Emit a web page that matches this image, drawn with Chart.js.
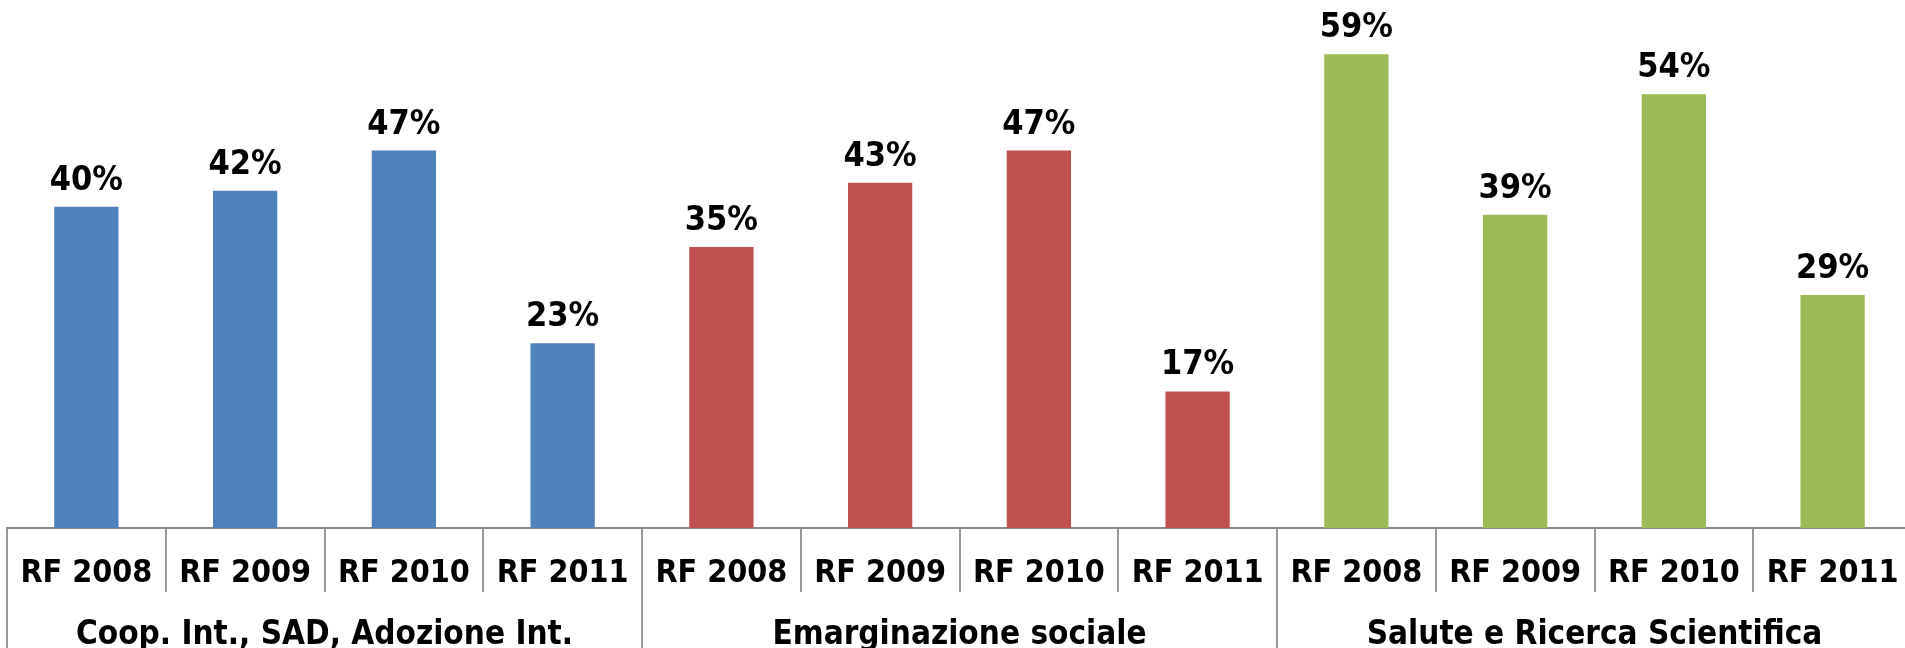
<!DOCTYPE html>
<html>
<head>
<meta charset="utf-8">
<script src="https://cdn.jsdelivr.net/npm/chart.js@4"></script>
<style>
  html, body { margin: 0; padding: 0; background: #fff; overflow: hidden; }
  #wrap { width: 1912px; height: 648px; }
</style>
</head>
<body>
<div id="wrap"><canvas id="chart"></canvas></div>
<script>
// ===========================
// DATA
// ===========================
const years = ["RF 2008", "RF 2009", "RF 2010", "RF 2011"];
const groups = ["Coop. Int., SAD, Adozione Int.", "Emarginazione sociale", "Salute e Ricerca Scientifica"];
const coopValues = [40, 42, 47, 23];
const emargValues = [35, 43, 47, 17];
const saluteValues = [59, 39, 54, 29];
const groupColors = ["#4F81BD", "#C0504D", "#9BBB59"];

// Flatten groups into one category axis
const labels = [...years, ...years, ...years];
const values = [...coopValues, ...emargValues, ...saluteValues];
const colors = [coopValues, emargValues, saluteValues]
    .flatMap((arr, i) => arr.map(() => groupColors[i]));

const FONT = "'DejaVu Sans Condensed', 'DejaVu Sans', sans-serif";

// Value labels above bars + axis labels (years row, groups row)
const textLayer = {
    id: "textLayer",
    afterDraw(chart) {
        const ctx = chart.ctx;
        ctx.save();
        ctx.fillStyle = "#000";
        ctx.textAlign = "center";
        ctx.textBaseline = "alphabetic";

        // values
        ctx.font = "bold 34px " + FONT;
        chart.getDatasetMeta(0).data.forEach((bar, i) => {
            ctx.fillText(values[i] + "%", bar.x, bar.y - 17);
        });

        // year row
        const x = chart.scales.x;
        ctx.font = "bold 32px " + FONT;
        x.ticks.forEach((t, i) => {
            ctx.fillText(x.getLabelForValue(t.value), x.getPixelForTick(i), x.top + 54);
        });

        // group row
        const x2 = chart.scales.x2;
        ctx.font = "bold 33px " + FONT;
        x2.ticks.forEach((t, i) => {
            ctx.fillText(x2.getLabelForValue(t.value), x2.getPixelForTick(i), x2.top + 52);
        });
        ctx.restore();
    }
};

// ===========================
// CHART
// ===========================
new Chart(document.getElementById("chart"), {
    type: "bar",
    data: {
        labels: labels,
        datasets: [{
            data: values,
            backgroundColor: colors,
            categoryPercentage: 1,
            barPercentage: 0.405
        }]
    },
    options: {
        responsive: true,
        maintainAspectRatio: false,
        animation: false,
        layout: {
            padding: { left: 7, right: 0, top: 0, bottom: 0 }
        },
        plugins: {
            legend: { display: false },
            tooltip: { enabled: false }
        },
        scales: {
            y: {
                display: false,
                min: 0,
                max: 65.75
            },
            x: {
                position: "bottom",
                offset: true,
                border: { color: "#888", width: 2 },
                grid: {
                    offset: true,
                    drawOnChartArea: false,
                    color: "#999",
                    lineWidth: 2,
                    tickLength: 64
                },
                ticks: { display: false, autoSkip: false }
            },
            x2: {
                type: "category",
                labels: groups,
                position: "bottom",
                offset: true,
                border: { display: false },
                grid: {
                    offset: true,
                    drawOnChartArea: false,
                    color: "#999",
                    lineWidth: 2,
                    tickLength: 56
                },
                ticks: { display: false, autoSkip: false }
            }
        }
    },
    plugins: [textLayer]
});
</script>
</body>
</html>
